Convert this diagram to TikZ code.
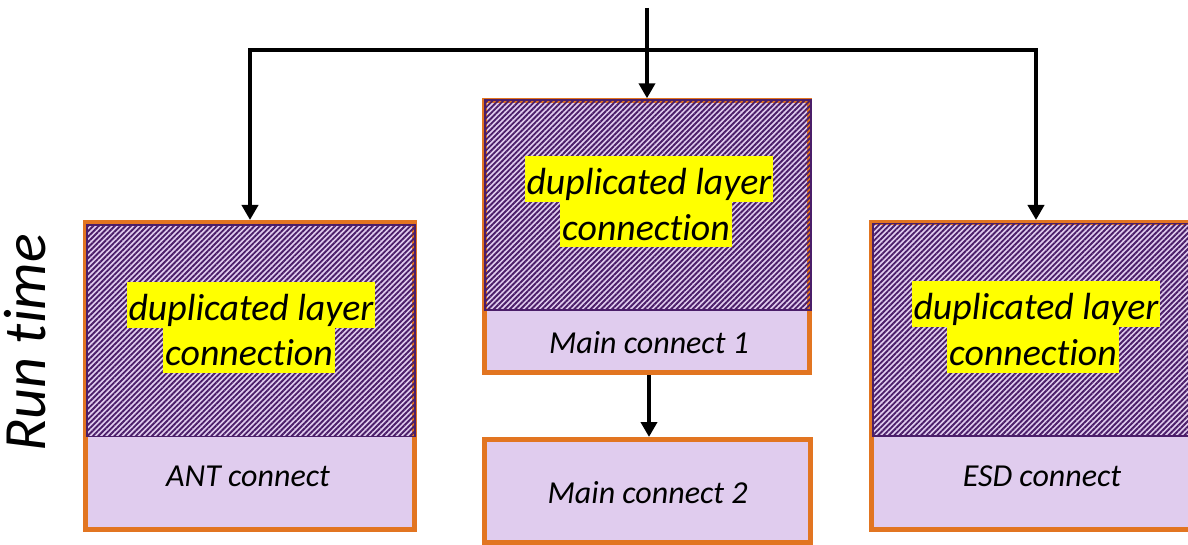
\documentclass[tikz,border=0pt]{standalone}
\usepackage{fontspec}
\setmainfont[Ligatures=NoCommon]{Carlito}
\usetikzlibrary{arrows.meta,patterns.meta}
\definecolor{orangeline}{RGB}{226,117,33}
\definecolor{lavender}{RGB}{224,204,238}
\definecolor{plum}{RGB}{75,30,105}
\definecolor{hiyellow}{RGB}{255,255,0}
\begin{document}
\begin{tikzpicture}[x=1pt,y=-1pt,
  box/.style={draw=orangeline, line width=5pt, fill=lavender, rectangle, inner sep=0pt},
  hatch/.style={draw=plum, line width=1.5pt, pattern={Lines[angle=45,distance=3.8pt,line width=1.9pt]}, pattern color=plum},
  hl/.style={fill=hiyellow, inner xsep=2pt, inner ysep=0pt, text height=38.3pt, text depth=7.3pt,
    font=\itshape\fontsize{37.8}{45}\selectfont},
  lbl/.style={anchor=base, inner sep=0pt, font=\itshape\fontsize{32}{38}\selectfont},
  arr/.style={line width=4pt, -{Triangle[width=16pt,length=15pt]}}]
\useasboundingbox (0,0) rectangle (1188,545);
\clip (0,0) rectangle (1188,545);

% side caption
\node[rotate=90, anchor=base, inner sep=0pt, font=\itshape\fontsize{60}{72}\selectfont] (rt) at (45,343) {Run time};

% outer boxes
\node[box, minimum width=328.4pt, minimum height=306.7pt] (ant) at (250,375.85) {};
\node[box, minimum width=325pt, minimum height=271.7pt] (mid) at (647,236.65) {};
\node[box, minimum width=326pt, minimum height=103pt] (mc2) at (647.5,491) {};
\node[box, minimum width=328.4pt, minimum height=306.7pt] (esd) at (1036,375.85) {};

% hatched upper parts
\path[hatch] (87,225) rectangle (415,436.5);
\path[hatch] (485,100) rectangle (811,310);
\path[hatch] (873,223.5) rectangle (1200,436);

% highlighted captions (second line overlaps the first slightly so no seam shows)
\node[hl, anchor=south] (antd1) at (251,327.8) {duplicated layer\ };
\node[hl, anchor=north] (antd2) at (249,327.3) {connection};
\node[hl, anchor=south] (midd1) at (649,202.2) {duplicated layer\ };
\node[hl, anchor=north] (midd2) at (646,201.7) {connection};
\node[hl, anchor=south] (esdd1) at (1036,327.2) {duplicated layer\ };
\node[hl, anchor=north] (esdd2) at (1033,326.7) {connection};

% lower labels
\node[lbl] (antl) at (248,486.7) {ANT connect};
\node[lbl] (midl) at (649,353.3) {Main connect 1};
\node[lbl] (mc2l) at (647.6,503.3) {Main connect 2};
\node[lbl] (esdl) at (1042,486.7) {ESD connect};

% connectors
\coordinate (src) at (647,8);
\coordinate (bus) at (647,50.3);
\draw[arr] (src) -- (mid.north);
\draw[arr] (bus) -| (ant.north);
\draw[arr] (bus) -| (esd.north);
\draw[arr] ([xshift=2pt]mid.south) -- ([xshift=1.5pt]mc2.north);
\end{tikzpicture}
\end{document}
